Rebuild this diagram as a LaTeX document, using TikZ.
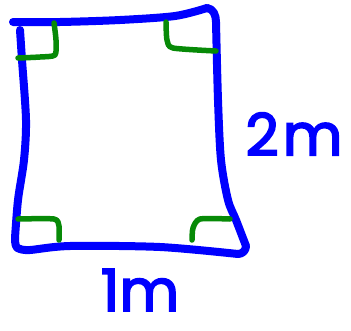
\documentclass[tikz,border=0pt]{standalone}
\usepackage{fontspec}
\setmainfont{Poppins}
\newfontfamily\penfont{Poppins}[FakeBold=3]
\usetikzlibrary{positioning}
\definecolor{penblue}{HTML}{0000FF}
\definecolor{pengreen}{HTML}{078A07}
\tikzset{
  % penselstreck
  edgeline/.style={draw=penblue,line width=8pt,line cap=round,line join=round},
  rightmark/.style={draw=pengreen,line width=5.5pt,line cap=round,line join=round},
  sidelabel/.style={text=penblue,font=\fontsize{58}{58}\penfont,inner sep=0pt},
}
\begin{document}
\begin{tikzpicture}[x=1pt,y=-1pt]
\useasboundingbox (0,0) rectangle (351,330);
  % rektangeln
  \draw[edgeline] plot[smooth,tension=0.5] coordinates
    {(13,22) (60,22) (120,20) (175,16) (207,8)};
  \draw[edgeline] (207,8) to[out=-5,in=90] (216,22);
  \draw[edgeline] plot[smooth,tension=0.5] coordinates
    {(216,22) (218,100) (221,160) (228,200) (236,220) (246,246)};
  \draw[edgeline] (246,246) to[out=-90,in=0] (238,254);
  \draw[edgeline] plot[smooth,tension=0.5] coordinates
    {(238,254) (160,247) (70,246) (30,250) (20,249)};
  \draw[edgeline] (20,249) to[out=180,in=-90] (15,238);
  \draw[edgeline] plot[smooth,tension=0.5] coordinates
    {(15,238) (18,200) (24,160) (26,120) (22,60) (20,30)};
  % rata vinklar
  \draw[rightmark] plot[smooth,tension=0.4] coordinates
    {(18,58) (40,57) (55,55) (56,40) (54,23)};
  \draw[rightmark] plot[smooth,tension=0.4] coordinates
    {(166,22) (167,40) (173,48) (216,51)};
  \draw[rightmark] plot[smooth,tension=0.4] coordinates
    {(18,219) (54,219) (59,226) (59,240)};
  \draw[rightmark] plot[smooth,tension=0.4] coordinates
    {(192,240) (193,228) (200,219) (230,219)};
  % mått
  \node[sidelabel] (hojd) at (294,134) {2\kern4pt m};
  \node[sidelabel] (bredd) at (140,290) {1m};
\end{tikzpicture}
\end{document}
